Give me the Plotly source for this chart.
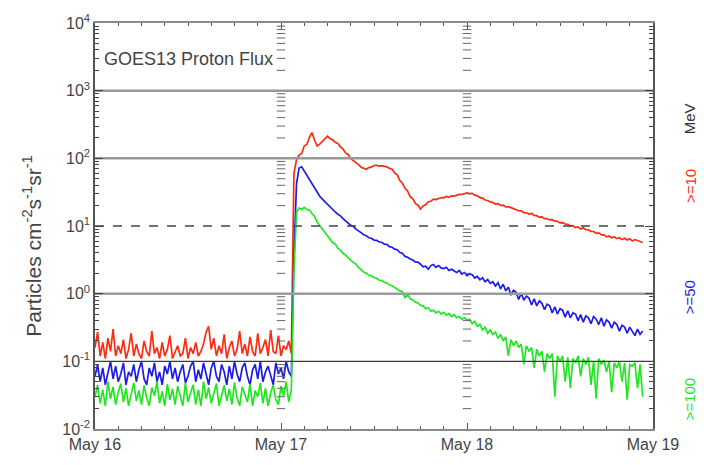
import plotly.graph_objects as go
import pandas as pd

# 20-minute samples, 2012-05-16 00:00 through 2012-05-18 22:40
times = pd.date_range("2012-05-16 00:00", periods=213, freq="20min")

# >=10 MeV integral flux (pfu)
p10_quiet = [0.16, 0.27, 0.12, 0.19, 0.11, 0.22, 0.14, 0.30, 0.12, 0.17, 0.13, 0.21, 0.11, 0.15, 0.26, 0.12, 0.18, 0.13, 0.11, 0.20,
             0.14, 0.12, 0.28, 0.13, 0.16, 0.11, 0.19, 0.12, 0.15, 0.24, 0.11, 0.14, 0.17, 0.12, 0.13, 0.22, 0.11, 0.16, 0.13, 0.19,
             0.12, 0.14, 0.18, 0.27, 0.33, 0.15, 0.22, 0.12, 0.17, 0.13, 0.25, 0.11, 0.16, 0.20, 0.12, 0.15, 0.28, 0.13, 0.18, 0.12,
             0.23, 0.14, 0.12, 0.26, 0.13, 0.16, 0.21, 0.12, 0.29, 0.14, 0.13, 0.24, 0.12, 0.17, 0.15, 0.20, 0.13]
p10_event = [60, 95, 112, 118, 152, 160, 205, 240, 185, 152, 162, 178, 198, 212, 196, 188, 172, 166, 148, 137,
             120, 114, 99, 93, 85, 81, 74, 72, 69, 73, 74, 78, 79, 77, 78, 76, 75, 71, 69, 61,
             57, 47, 43, 36, 33, 27, 25.5, 21.5, 20.3,
             17.8, 19.8, 20.6, 22.8, 23.2, 24.9, 24.6, 25.4, 26.3, 26.1,
             27.3, 26.6, 27.9, 27.7, 28.4, 29.3, 29.2, 30.3, 30.9, 30.2,
             30.4, 28.6, 27.9, 26.2, 25.8, 24.2, 23.8, 22.7, 22.3, 21.1,
             21.4, 20.2, 20.4, 19.1, 19.3, 18.7, 17.9, 17.6, 16.8, 16.7,
             15.8, 15.7, 15.0, 15.3, 14.3, 14.2, 13.5, 13.6, 12.8, 12.9,
             12.3, 12.4, 11.8, 11.7, 11.1, 11.2, 10.7, 10.6, 10.0, 10.1,
             9.5, 9.7, 9.0, 9.4, 8.8, 8.8, 8.3, 8.3, 7.8, 7.9,
             7.4, 7.4, 6.9, 7.1, 6.7, 6.9, 6.5, 6.7, 6.3, 6.6,
             6.2, 6.5, 6.0, 6.3, 6.1, 5.9, 5.7]

# >=50 MeV integral flux (pfu)
p50_quiet = [0.06, 0.09, 0.05, 0.08, 0.045, 0.07, 0.1, 0.055, 0.085, 0.05, 0.065, 0.095, 0.045, 0.07, 0.06, 0.09, 0.05, 0.075, 0.1, 0.055,
             0.045, 0.08, 0.06, 0.095, 0.05, 0.07, 0.045, 0.085, 0.065, 0.1, 0.055, 0.08, 0.05, 0.07, 0.09, 0.048, 0.06, 0.085, 0.1, 0.05,
             0.075, 0.055, 0.095, 0.065, 0.045, 0.08, 0.1, 0.06, 0.05, 0.09, 0.07, 0.045, 0.085, 0.055, 0.1, 0.065, 0.05, 0.08, 0.095, 0.06,
             0.045, 0.075, 0.09, 0.055, 0.1, 0.05, 0.07, 0.085, 0.06, 0.045, 0.095, 0.065, 0.08, 0.055, 0.1, 0.07, 0.06]
p50_event = [3.5, 42, 72, 75, 65, 56, 48, 41, 36, 31, 27.5, 25, 22.8, 20.5, 19.2, 17.4, 16.1, 14.9, 14.1, 12.9, 12.1, 11.0,
             10.2, 9.9, 9.0, 8.6, 8.0, 7.4, 7.2, 6.7, 6.6, 6.2, 6.15, 5.8, 5.75, 5.4, 5.35, 4.95, 4.85, 4.55, 4.45, 4.05,
             3.95, 3.55, 3.45, 3.25, 3.15, 2.95, 2.92, 2.72,
             2.5, 2.55, 2.3, 2.6, 2.7, 2.45, 2.6, 2.4, 2.35, 2.45,
             2.2, 2.3, 2.15, 2.05, 2.2, 1.95, 2.05, 1.85, 1.95, 1.9,
             1.7, 1.8, 1.6, 1.72, 1.5, 1.62, 1.42, 1.5, 1.3, 1.45,
             1.18, 1.38, 1.1, 1.25, 0.95, 1.12, 1.05, 0.82, 1.02, 0.8,
             0.92, 0.86, 0.68, 0.84, 0.66, 0.78, 0.72, 0.58, 0.7, 0.66,
             0.52, 0.64, 0.5, 0.6, 0.57, 0.45, 0.56, 0.44, 0.52, 0.5,
             0.4, 0.49, 0.38, 0.47, 0.44, 0.36, 0.46, 0.42, 0.35, 0.44,
             0.33, 0.41, 0.38, 0.31, 0.38, 0.35, 0.28, 0.34, 0.32, 0.26,
             0.32, 0.27, 0.24, 0.3, 0.25, 0.28]

# >=100 MeV integral flux (pfu)
p100_quiet = [0.03, 0.045, 0.024, 0.038, 0.022, 0.05, 0.028, 0.042, 0.023, 0.035, 0.047, 0.025, 0.04, 0.022, 0.033, 0.048, 0.026, 0.037, 0.023, 0.044,
              0.029, 0.022, 0.041, 0.031, 0.05, 0.024, 0.036, 0.022, 0.046, 0.027, 0.039, 0.023, 0.043, 0.03, 0.022, 0.048, 0.025, 0.034, 0.045, 0.023,
              0.038, 0.022, 0.05, 0.028, 0.041, 0.024, 0.035, 0.047, 0.022, 0.032, 0.044, 0.026, 0.039, 0.023, 0.049, 0.029, 0.022, 0.042, 0.033, 0.025,
              0.046, 0.022, 0.037, 0.03, 0.048, 0.024, 0.04, 0.022, 0.034, 0.045, 0.027, 0.023, 0.043, 0.031, 0.05, 0.025, 0.038]
p100_event = [2.0, 16, 18.5, 17.6, 18.8, 17.5, 17.2, 15.3, 13.8, 11.4, 10.2, 8.9, 8.1, 7.1, 6.5, 5.7, 5.4, 4.7, 4.4,
              3.95, 3.72, 3.38, 3.12, 2.88, 2.74, 2.43, 2.28, 2.08, 2.01,
              1.87, 1.84, 1.73, 1.69, 1.58, 1.56, 1.47, 1.44, 1.35, 1.31,
              1.23, 1.19, 1.1, 1.07, 0.86, 0.97, 0.84, 0.81, 0.75, 0.73,
              0.67, 0.66, 0.6, 0.62, 0.55, 0.57, 0.52, 0.55, 0.5, 0.53,
              0.48, 0.51, 0.46, 0.49, 0.44, 0.46, 0.42, 0.44, 0.41, 0.42,
              0.36, 0.39, 0.33, 0.35, 0.29, 0.32, 0.26, 0.29, 0.25, 0.27,
              0.22, 0.25, 0.2, 0.23,
              0.12, 0.21, 0.17, 0.2, 0.16, 0.18, 0.09, 0.17, 0.14, 0.16, 0.08, 0.15, 0.12, 0.14, 0.07, 0.13, 0.11,
              0.13, 0.03, 0.12, 0.1, 0.12, 0.05, 0.115, 0.04, 0.11, 0.095, 0.12, 0.06, 0.11, 0.09, 0.115, 0.045, 0.1, 0.028, 0.11, 0.09,
              0.105, 0.07, 0.1, 0.035, 0.095, 0.08, 0.1, 0.05, 0.095, 0.027, 0.09, 0.085, 0.095, 0.04, 0.09, 0.03]

channels = [">=10", ">=50", ">=100"]
colors = ["#ff2a12", "#1c1ce6", "#22e622"]
series = [p10_quiet + p10_event, p50_quiet + p50_event, p100_quiet + p100_event]

day_ticks = ["2012-05-16", "2012-05-17", "2012-05-18", "2012-05-19"]
day_labels = ["May 16", "May 17", "May 18", "May 19"]
decades = [-2, -1, 0, 1, 2, 3, 4]
decade_labels = ["10<sup>%d</sup>" % k for k in decades]
minor_vals = [m * 10.0 ** k for k in range(-2, 4) for m in range(2, 10)]

fig = go.Figure()

for name, col, vals in zip(channels, colors, series):
    fig.add_trace(go.Scatter(x=times, y=vals, mode="lines", name=name,
                             line=dict(color=col, width=1.7), hoverinfo="skip"))

# Decade reference lines drawn over the data
ref_lines = {3: ("#9a9a9a", 2.5, "solid"), 2: ("#9a9a9a", 2.5, "solid"),
             1: ("#444444", 1.4, "dash"), 0: ("#9a9a9a", 2.5, "solid"),
             -1: ("#3a3a3a", 1.4, "solid")}
for k, (col, w, dash) in ref_lines.items():
    fig.add_trace(go.Scatter(x=[day_ticks[0], day_ticks[-1]], y=[10.0 ** k] * 2, mode="lines",
                             line=dict(color=col, width=w, dash=dash),
                             hoverinfo="skip", showlegend=False))

# Day boundaries marked with the log tick ladder
for d in day_ticks[1:3]:
    fig.add_trace(go.Scatter(x=[d] * len(minor_vals), y=minor_vals, mode="markers",
                             marker=dict(symbol="line-ew", size=6,
                                         line=dict(color="#666666", width=1)),
                             hoverinfo="skip", showlegend=False))

font_family = "Liberation Sans, Arial, sans-serif"
text_col = "#444444"

fig.update_layout(
    width=704, height=465,
    margin=dict(l=95, r=51, t=12, b=27),
    paper_bgcolor="white", plot_bgcolor="white",
    showlegend=False,
    font=dict(family=font_family, color=text_col, size=15),
    xaxis=dict(
        type="date", range=[day_ticks[0], day_ticks[-1]],
        tickmode="array", tickvals=day_ticks, ticktext=day_labels,
        ticks="inside", ticklen=6, tickcolor="#555555",
        minor=dict(dtick=3 * 3600 * 1000, ticks="inside", ticklen=3, tickcolor="#555555", showgrid=False),
        showgrid=False, zeroline=False,
        showline=True, linecolor="#8a8a8a", linewidth=2, mirror="ticks",
        tickfont=dict(size=16, color=text_col),
    ),
    yaxis=dict(
        type="log", range=[-2, 4],
        tickmode="array", tickvals=[10.0 ** k for k in decades], ticktext=decade_labels,
        ticks="inside", ticklen=8, tickcolor="#444444",
        minor=dict(tickmode="array", tickvals=minor_vals, ticks="inside", ticklen=4,
                   tickcolor="#444444", showgrid=False),
        showgrid=False, zeroline=False,
        showline=True, linecolor="#555555", linewidth=1.5, mirror="ticks",
        tickfont=dict(size=16, color=text_col),
    ),
)

annotations = [
    dict(text="GOES13 Proton Flux", x=0.013, y=0.911, xanchor="left", yanchor="middle",
         font=dict(size=18, color=text_col)),
    dict(text="Particles cm<sup>-2</sup>s<sup>-1</sup>sr<sup>-1</sup>", x=-0.113, y=0.451,
         textangle=-90, xanchor="center", yanchor="middle", font=dict(size=21, color=text_col)),
    dict(text="MeV", x=1.066, y=0.765, textangle=-90, xanchor="center", yanchor="middle",
         font=dict(size=15, color="#333333")),
]
label_y = [0.598, 0.324, 0.075]
for name, col, yy in zip(channels, colors, label_y):
    annotations.append(dict(text=name.replace(">", "&gt;"), x=1.066, y=yy, textangle=-90,
                            xanchor="center", yanchor="middle", font=dict(size=15, color=col)))
for a in annotations:
    a.update(xref="paper", yref="paper", showarrow=False)
fig.update_layout(annotations=annotations)

fig.write_html("out.html")
